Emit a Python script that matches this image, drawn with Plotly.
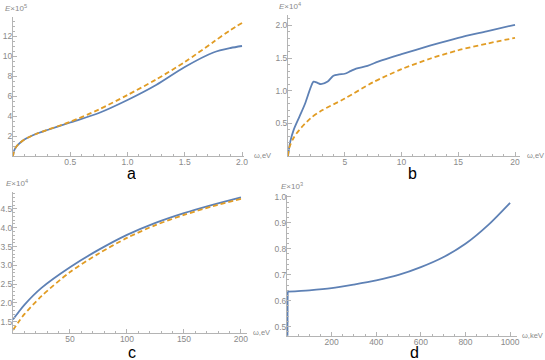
import plotly.graph_objects as go

W, H = 545, 360
BLUE = "#5e81b5"
ORANGE = "#e19c24"
AXIS = "#b4b4b4"
GREY = "#8a8a8a"
TICKFONT = dict(family="Liberation Sans", size=8.5, color=GREY)

# panel a: omega in eV, E x 10^5
a_x = [0, 0.01, 0.03, 0.06, 0.1, 0.2, 0.3, 0.5, 0.75, 1.0, 1.25, 1.5, 1.75, 1.9, 2.0]
a_blue = [0, 0.55, 0.95, 1.3, 1.65, 2.2, 2.6, 3.35, 4.3, 5.6, 7.1, 8.9, 10.35, 10.8, 11.0]
a_orange = [0, 0.55, 0.95, 1.3, 1.65, 2.2, 2.62, 3.42, 4.65, 6.1, 7.65, 9.4, 11.4, 12.6, 13.3]

# panel b: omega in eV, E x 10^4
b_x = [0, 0.2, 0.5, 1, 1.5, 2, 2.25, 2.6, 2.9, 3.5, 4, 4.5, 5, 5.5, 6, 7, 8, 10, 12.5, 15, 17.5, 20]
b_blue = [0, 0.22, 0.4, 0.6, 0.8, 1.05, 1.14, 1.12, 1.10, 1.14, 1.23, 1.25, 1.26, 1.30, 1.34, 1.38,
          1.45, 1.56, 1.69, 1.81, 1.91, 2.01]
b_xo = [0, 0.1, 0.5, 1, 2, 3, 5, 7.5, 10, 12.5, 15, 17.5, 20]
b_orange = [0, 0.12, 0.28, 0.40, 0.58, 0.70, 0.88, 1.13, 1.33, 1.49, 1.62, 1.72, 1.81]

# panel c: omega in eV, E x 10^4
c_x = [0, 5, 10, 25, 50, 75, 100, 125, 150, 175, 200]
c_blue = [1.56, 1.76, 1.95, 2.4, 2.95, 3.41, 3.81, 4.13, 4.39, 4.61, 4.81]
c_orange = [1.28, 1.5, 1.7, 2.18, 2.82, 3.31, 3.73, 4.07, 4.34, 4.57, 4.77]

# panel d: omega in keV, E x 10^3 (first two points = the vertical jump)
d_x = [2, 3, 100, 200, 300, 400, 500, 600, 700, 800, 900, 1000]
d_blue = [0.465, 0.635, 0.640, 0.648, 0.662, 0.678, 0.699, 0.729, 0.767, 0.819, 0.89, 0.977]

# pixel boxes (left, right, bottom, top) and ranges for each panel
panels = [
    dict(name="a", px=(13, 243.5, 156, 17), xr=[0, 2.013], yr=[0, 13.9],
         xt=[0.5, 1.0, 1.5, 2.0], xtl=["0.5", "1.0", "1.5", "2.0"], xminor=0.1,
         yt=[2, 4, 6, 8, 10, 12], ytl=["2", "4", "6", "8", "10", "12"], yminor=0.5,
         xlab="ω,eV", ylab="<i>E</i>×10<sup>5</sup>", xlab_x=252, ylab_x=3, letter=(131, 173)),
    dict(name="b", px=(288, 520, 156, 15), xr=[0, 20.44], yr=[0, 2.16],
         xt=[5, 10, 15, 20], xtl=["5", "10", "15", "20"], xminor=1,
         yt=[0.5, 1.0, 1.5, 2.0], ytl=["0.5", "1.0", "1.5", "2.0"], yminor=0.1,
         xlab="ω,eV", ylab="<i>E</i>×10<sup>4</sup>", xlab_x=525, ylab_x=277, letter=(412, 173)),
    dict(name="c", px=(13, 247, 333, 192), xr=[0, 205.3], yr=[1.2, 4.95],
         xt=[50, 100, 150, 200], xtl=["50", "100", "150", "200"], xminor=10,
         yt=[1.5, 2.0, 2.5, 3.0, 3.5, 4.0, 4.5], ytl=["1.5", "2.0", "2.5", "3.0", "3.5", "4.0", "4.5"],
         yminor=0.1, xlab="ω,eV", ylab="<i>E</i>×10<sup>4</sup>", xlab_x=251, ylab_x=4,
         letter=(132, 352)),
    dict(name="d", px=(287, 517, 336, 195), xr=[0, 1031], yr=[0.464, 1.007],
         xt=[200, 400, 600, 800, 1000], xtl=["200", "400", "600", "800", "1000"], xminor=50,
         yt=[0.5, 0.6, 0.7, 0.8, 0.9, 1.0], ytl=["0.5", "0.6", "0.7", "0.8", "0.9", "1.0"],
         yminor=0.02, xlab="ω,keV", ylab="<i>E</i>×10<sup>3</sup>", xlab_x=520, ylab_x=279,
         letter=(414, 352)),
]

series = {
    "a": [(a_x, a_blue, BLUE, "solid"), (a_x, a_orange, ORANGE, "5px,3px")],
    "b": [(b_x, b_blue, BLUE, "solid"), (b_xo, b_orange, ORANGE, "5px,3px")],
    "c": [(c_x, c_blue, BLUE, "solid"), (c_x, c_orange, ORANGE, "5px,3px")],
    # jump drawn straight, the rest smoothed
    "d": [(d_x[:2], d_blue[:2], BLUE, "solid"), (d_x[1:], d_blue[1:], BLUE, "solid")],
}

fig = go.Figure()
annotations = []

for i, p in enumerate(panels, start=1):
    l, r, b, t = p["px"]
    xa = "x" if i == 1 else f"x{i}"
    ya = "y" if i == 1 else f"y{i}"
    for xs, ys, col, dash in series[p["name"]]:
        shape = "linear" if len(xs) == 2 else "spline"
        fig.add_trace(go.Scatter(x=xs, y=ys, mode="lines", xaxis=xa, yaxis=ya,
                                 line=dict(color=col, width=1.8, dash=dash, shape=shape,
                                           smoothing=0.8),
                                 showlegend=False, hoverinfo="skip", cliponaxis=False))

    common = dict(showline=True, linecolor=AXIS, linewidth=1, showgrid=False, zeroline=False,
                  ticks="inside", ticklen=4, tickcolor=AXIS, tickfont=TICKFONT,
                  tickmode="array", automargin=False, fixedrange=True)
    fig.layout[f"xaxis{'' if i == 1 else i}"] = dict(
        common, domain=[l / W, r / W], range=p["xr"], anchor=ya,
        tickvals=p["xt"], ticktext=p["xtl"], ticklabelstandoff=-2,
        minor=dict(tick0=0, dtick=p["xminor"], ticks="inside", ticklen=2, tickcolor=AXIS))
    fig.layout[f"yaxis{'' if i == 1 else i}"] = dict(
        common, domain=[1 - b / H, 1 - t / H], range=p["yr"], anchor=xa,
        tickvals=p["yt"], ticktext=p["ytl"], ticklabelstandoff=-2,
        minor=dict(tick0=0, dtick=p["yminor"], ticks="inside", ticklen=2, tickcolor=AXIS))

    # axis captions
    annotations.append(dict(x=p["xlab_x"] / W, y=1 - (b - 1) / H, xref="paper", yref="paper",
                            text=p["xlab"], showarrow=False, xanchor="left", yanchor="middle",
                            font=dict(family="Liberation Sans", size=7.5, color=GREY)))
    annotations.append(dict(x=p["ylab_x"] / W, y=1 - (t - 9) / H, xref="paper", yref="paper",
                            text=p["ylab"], showarrow=False, xanchor="left", yanchor="middle",
                            font=dict(family="Liberation Sans", size=8, color=GREY)))
    # panel letter
    lx, ly = p["letter"]
    annotations.append(dict(x=lx / W, y=1 - ly / H, xref="paper", yref="paper",
                            text=p["name"], showarrow=False, xanchor="center", yanchor="middle",
                            height=12, borderpad=0,
                            font=dict(family="Liberation Sans", size=16, color="black")))

fig.update_layout(width=W, height=H, margin=dict(l=0, r=0, t=0, b=0),
                  paper_bgcolor="white", plot_bgcolor="white", annotations=annotations)

fig.write_html("out.html", config={"displayModeBar": False},
               post_script="document.body.style.margin='0';")
